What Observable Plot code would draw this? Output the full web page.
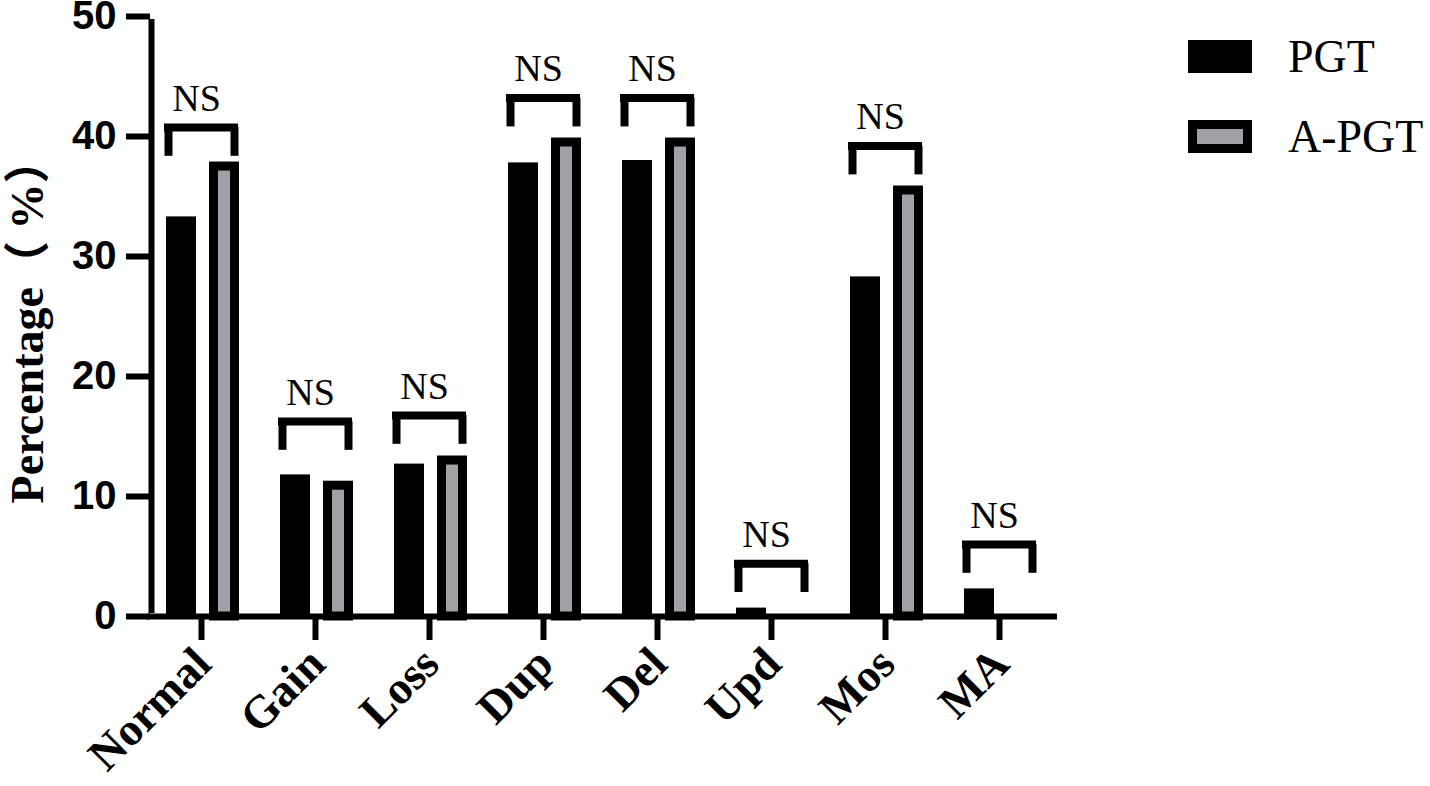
<!DOCTYPE html>
<html>
<head>
<meta charset="utf-8">
<script src="https://cdn.jsdelivr.net/npm/d3@7"></script>
<script src="https://cdn.jsdelivr.net/npm/@observablehq/plot@0.6"></script>
<style>
  html, body { margin: 0; padding: 0; background: #fff; }
  #wrap { position: relative; width: 1430px; height: 786px; overflow: hidden; }
  .legend { position: absolute; left: 1188px; font-family: "Liberation Serif", "Times New Roman", serif; font-size: 46px; color: #000; }
  .legend .row { position: absolute; left: 0; display: flex; align-items: center; white-space: nowrap; }
  .legend .sw { width: 64px; height: 33px; box-sizing: border-box; margin-right: 36px; }
</style>
</head>
<body>
<div id="wrap"></div>
<script>
const categories = ["Normal", "Gain", "Loss", "Dup", "Del", "Upd", "Mos", "MA"];
const series = ["PGT", "A-PGT"];
const pgtValues = [33.3, 11.8, 12.7, 37.8, 38.0, 0.7, 28.3, 2.3];
const apgtValues = [37.5, 10.9, 13.0, 39.5, 39.5, 0, 35.5, 0];
const bracketLevels = [40.75, 16.25, 16.75, 43.2, 43.2, 4.4, 39.2, 6.0];
const significance = ["NS", "NS", "NS", "NS", "NS", "NS", "NS", "NS"];
const yTicks = [0, 10, 20, 30, 40, 50];
const yLabel = "Percentage（ %）";
const seriesColors = ["#000000", "#a1a1a5"];

const pgtData = categories.map((c, i) => ({category: c, value: pgtValues[i]}));
const apgtData = categories.map((c, i) => ({category: c, value: apgtValues[i]})).filter(d => d.value > 0);
const brackets = categories.map((c, i) => ({category: c, level: bracketLevels[i], label: significance[i]}));

const LEG = 2.4;
const serif = "Liberation Serif, Times New Roman, serif";
const sans = "Liberation Sans, Arial, sans-serif";

const chart = Plot.plot({
  width: 1430,
  height: 786,
  marginLeft: 150,
  marginRight: 373,
  marginTop: 16,
  marginBottom: 170,
  style: {background: "#fff", overflow: "visible"},
  x: {domain: categories, range: [143, 1057], padding: 0, axis: null},
  y: {domain: [0, 50], range: [616, 16], axis: null},
  marks: [
    Plot.barY(pgtData, {x: "category", y: "value", fill: seriesColors[0], insetLeft: 22, insetRight: 62}),
    Plot.barY(apgtData, {x: "category", y: "value", fill: seriesColors[1], stroke: "#000", strokeWidth: 9, insetLeft: 69.5, insetRight: 23.5}),
    Plot.tickY(brackets, {x: "category", y: "level", stroke: "#000", strokeWidth: 8, insetLeft: 20, insetRight: 20}),
    Plot.ruleX(brackets, {x: "category", y1: "level", y2: d => d.level - LEG, stroke: "#000", strokeWidth: 8, dx: -33}),
    Plot.ruleX(brackets, {x: "category", y1: "level", y2: d => d.level - LEG, stroke: "#000", strokeWidth: 8, dx: 33}),
    Plot.text(brackets, {x: "category", y: "level", text: "label", dx: -5, dy: -17, lineAnchor: "bottom", fontSize: 38, fontFamily: serif, fill: "#000"}),
    // y axis line and baseline
    Plot.ruleX([categories[0]], {x: d => d, y1: 0, y2: 50, dx: -50, stroke: "#000", strokeWidth: 6, insetBottom: -3, insetTop: -3}),
    Plot.ruleY([0], {stroke: "#000", strokeWidth: 6, insetLeft: -3}),
    Plot.axisY({ticks: yTicks, tickSize: 24, tickPadding: 10, strokeWidth: 6, fontSize: 40, fontWeight: "bold", fontFamily: sans, label: null, color: "#000"}),
    Plot.axisX({tickSize: 24, strokeWidth: 6, tickFormat: () => "", label: null, color: "#000"}),
    Plot.text(categories, {x: d => d, frameAnchor: "bottom", text: d => d, rotate: -45, textAnchor: "end", dx: 12, dy: 50, fontSize: 46, fontWeight: "bold", fontFamily: serif, fill: "#000"}),
    Plot.text([yLabel], {frameAnchor: "left", text: d => d, rotate: -90, textAnchor: "middle", dx: -122, dy: 4, fontSize: 46, fontWeight: "bold", fontFamily: "Liberation Serif, Noto Sans CJK SC, serif", fill: "#000"})
  ]
});

const wrap = document.getElementById("wrap");
wrap.appendChild(chart);

const legend = document.createElement("div");
legend.className = "legend";
legend.style.top = "0px";
series.forEach((s, i) => {
  const row = document.createElement("div");
  row.className = "row";
  row.style.top = (i === 0 ? 26 : 106) + "px";
  row.style.height = "60px";
  const sw = document.createElement("div");
  sw.className = "sw";
  if (i === 0) { sw.style.background = seriesColors[0]; }
  else { sw.style.background = seriesColors[1]; sw.style.border = "9.5px solid #000"; }
  const tx = document.createElement("span");
  tx.textContent = s;
  row.appendChild(sw);
  row.appendChild(tx);
  legend.appendChild(row);
});
wrap.appendChild(legend);
</script>
</body>
</html>
